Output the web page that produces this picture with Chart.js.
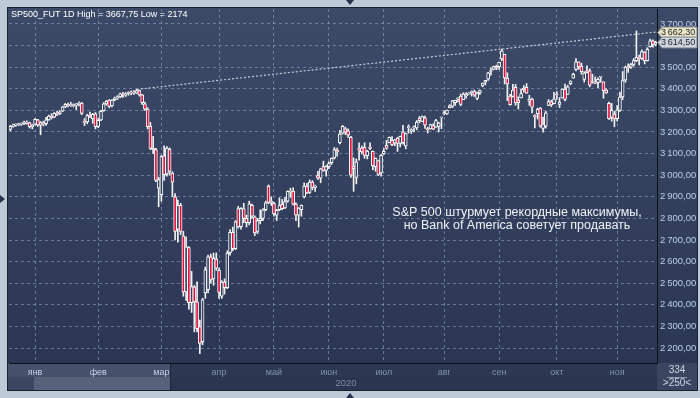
<!DOCTYPE html>
<html>
<head>
<meta charset="utf-8">
<script src="https://cdn.jsdelivr.net/npm/chart.js@4.4.1/dist/chart.umd.min.js"></script>
<style>
  html, body { margin: 0; padding: 0; background: #bfcad8; }
  canvas { display: block; }
</style>
</head>
<body>
<canvas id="chart" width="700" height="398"></canvas>
<script>
// month names and the bar index where each month starts
const months = ['янв', 'фев', 'мар', 'апр', 'май', 'июн', 'июл', 'авг', 'сен', 'окт', 'ноя'];
const monthStart = [9, 32, 55, 76, 96, 116, 136, 158, 178, 199, 221];
const yTicks = [2200, 2300, 2400, 2500, 2600, 2700, 2800, 2900, 3000, 3100, 3200, 3300, 3400, 3500, 3600, 3700];

// daily candles, SP500 futures (Dec 2019 .. Nov 2020)
const opens = [
  3212,3226,3232,3234,3236,3238,3246,3242,3224,
  3236,3256,3232,3244,3238,3256,3274,3268,3284,3284,3296,3316,3326,3322,3322,3324,3328,3334,3250,3246,3278,3262,3284,
  3226,3256,3298,3330,3348,3320,3350,3358,3362,3374,3370,3378,3380,3384,3380,3392,3372,3330,3306,3226,3124,3118,2940,
  2910,3090,3006,3120,3010,2900,2750,2860,2720,2460,2665,2410,2483,2414,2300,2230,2455,2470,2622,2520,2612,
  2560,2440,2505,2480,2642,2736,2660,2845,2762,2845,2800,2780,2860,2807,2740,2790,2800,2840,2950,2874,
  2870,2815,2840,2865,2848,2880,2920,2926,2866,2815,2840,2900,2950,2920,2968,2944,2998,2986,3040,3022,
  3040,3058,3080,3115,3150,3195,3215,3205,3175,3040,2990,3120,3125,3130,3090,3130,3110,3040,3068,3010,
  3100,3138,3150,3161,3149,3171,3147,3200,3136,3220,3204,3219,3219,3263,3249,3266,3213,3214,3229,3222,3226,3265,
  3283,3284,3312,3318,3335,3352,3365,3350,3368,3375,3382,3387,3355,3381,3413,3430,3444,3481,3490,3504,
  3502,3538,3559,3448,3366,3364,3407,3348,3358,3402,3406,3341,3352,3275,3285,3310,3216,3227,3323,3340,3331,
  3375,3328,3358,3398,3374,3424,3449,3490,3524,3505,3443,3483,3483,3429,3429,3428,3454,3432,3394,3333,3267,3283,
  3262,3300,3362,3440,3500,3500,3512,3530,3545,3540,3570,3530,3595,3622,3605
];
const highs = [
  3230,3236,3238,3240,3242,3250,3252,3246,3236,
  3262,3258,3248,3250,3268,3278,3284,3290,3296,3298,3318,3332,3334,3338,3330,3332,3340,3337,3262,3282,3292,3286,3290,
  3262,3300,3336,3346,3350,3350,3362,3368,3380,3384,3382,3386,3390,3392,3397,3394,3374,3338,3312,3244,3180,3124,2990,
  3092,3136,3132,3126,3016,2915,2885,2870,2740,2715,2670,2555,2490,2507,2330,2430,2575,2630,2635,2640,2640,
  2570,2512,2520,2650,2748,2760,2790,2856,2850,2870,2815,2880,2866,2812,2800,2840,2845,2880,2955,2900,
  2875,2842,2895,2888,2898,2928,2940,2942,2872,2850,2862,2965,2962,2978,2975,2954,3018,3032,3065,3045,
  3062,3080,3128,3126,3208,3230,3222,3215,3180,3080,3075,3150,3135,3150,3115,3150,3112,3080,3070,3095,
  3123,3161,3177,3179,3166,3175,3181,3231,3195,3233,3215,3228,3253,3272,3274,3274,3222,3236,3238,3259,3245,3267,
  3298,3301,3326,3346,3347,3359,3376,3382,3382,3382,3390,3394,3385,3394,3427,3439,3476,3496,3505,3509,
  3523,3583,3559,3474,3374,3420,3420,3363,3397,3415,3424,3370,3357,3280,3310,3313,3269,3296,3350,3347,3383,
  3387,3359,3399,3422,3416,3437,3472,3540,3524,3518,3479,3506,3492,3467,3455,3451,3456,3432,3400,3338,3332,3295,
  3322,3385,3480,3505,3515,3518,3540,3667.75,3556,3580,3572,3590,3630,3626,3620
];
const lows = [
  3205,3222,3226,3229,3230,3234,3236,3218,3214,
  3232,3226,3187,3228,3230,3254,3260,3266,3276,3280,3294,3312,3316,3318,3316,3304,3320,3280,3230,3238,3266,3240,3214,
  3220,3252,3296,3324,3312,3316,3344,3350,3358,3360,3364,3370,3372,3374,3378,3366,3328,3300,3214,3118,3100,2970,2854,
  2880,2976,2995,3000,2900,2700,2690,2725,2440,2420,2380,2365,2275,2275,2174,2215,2430,2455,2500,2490,2560,
  2430,2430,2450,2475,2630,2650,2655,2755,2750,2780,2760,2770,2800,2720,2730,2775,2790,2835,2868,2860,
  2810,2790,2835,2840,2845,2875,2898,2862,2790,2760,2810,2895,2915,2915,2932,2925,2980,2965,3018,2995,
  3030,3050,3075,3088,3145,3190,3188,3175,2990,2925,2960,3070,3098,3078,3075,3118,3025,3018,2998,2995,
  3096,3120,3150,3137,3136,3110,3131,3144,3122,3195,3193,3200,3210,3242,3248,3217,3195,3213,3211,3221,3200,3215,
  3279,3281,3312,3313,3323,3339,3321,3350,3356,3374,3366,3364,3349,3374,3409,3418,3439,3463,3488,3488,
  3489,3530,3422,3345,3324,3361,3324,3306,3358,3384,3379,3323,3288,3219,3260,3222,3199,3218,3322,3317,3330,
  3351,3313,3357,3344,3374,3418,3449,3482,3490,3467,3431,3473,3409,3425,3423,3405,3430,3356,3378,3258,3250,3224,
  3250,3295,3350,3430,3476,3494,3505,3525,3510,3535,3515,3528,3592,3592,3598
];
const closes = [
  3226,3232,3234,3236,3238,3246,3240,3224,3232,
  3258,3232,3244,3236,3256,3274,3266,3286,3282,3292,3316,3328,3322,3324,3326,3328,3332,3286,3244,3276,3270,3282,3224,
  3254,3296,3330,3342,3318,3348,3358,3362,3376,3370,3378,3382,3386,3380,3392,3372,3336,3306,3224,3124,3118,2976,2980,
  3086,3003,3126,3018,2968,2740,2860,2740,2460,2668,2410,2485,2414,2290,2222,2423,2562,2622,2516,2615,2570,
  2458,2505,2480,2640,2736,2660,2784,2762,2845,2800,2780,2868,2810,2733,2790,2800,2840,2872,2874,2880,
  2822,2838,2862,2845,2878,2925,2926,2866,2815,2848,2860,2950,2918,2968,2944,2950,2986,3030,3022,3040,
  3054,3078,3118,3108,3190,3226,3200,3185,3000,3030,3062,3118,3108,3092,3112,3124,3044,3078,3004,3092,
  3111,3125,3175,3140,3164,3147,3180,3150,3192,3222,3210,3220,3246,3252,3271,3231,3211,3234,3213,3253,3241,3266,
  3290,3301,3322,3344,3346,3355,3328,3375,3368,3377,3384,3370,3380,3392,3426,3439,3474,3480,3503,3495,
  3522,3575,3450,3422,3326,3394,3334,3336,3378,3396,3380,3352,3315,3271,3305,3227,3236,3288,3341,3325,3353,
  3371,3338,3398,3351,3409,3436,3467,3524,3501,3479,3473,3474,3417,3433,3426,3443,3455,3391,3381,3261,3300,3260,
  3302,3362,3438,3500,3498,3512,3530,3545,3540,3572,3530,3582,3622,3605,3614.5
];

const bars = opens.map((_, i) => i);

// dotted trend line from the February high to the right edge
const trendFrom = 46, trendFromValue = 3397;
const trendTo = bars.length - 1, trendToValue = 3662.3;
const lastPrice = 3614.5;

const titleText = 'SP500_FUT 1D High = 3667,75 Low = 2174';
const noteLines = ['S&P 500 штурмует рекордные максимумы,', 'но Bank of America советует продавать'];
const yearLabel = '2020';
const barsLoaded = '334';
const zoomLabel = '>250<';

const FONT = '"Liberation Sans", Arial, sans-serif';
const gridCol = 'rgba(150,170,200,0.55)';
const upFill = '#34415f';
const downFill = '#e3123c';

function fmtPrice(v) {
  const [a, b] = v.toFixed(2).split('.');
  return a.replace(/\B(?=(\d{3})+(?!\d))/g, '\u2009') + ',' + b;
}

const trendData = bars.map(i => i === trendFrom ? trendFromValue : (i === trendTo ? trendToValue : null));

const framePlugin = {
  id: 'frame',
  beforeDraw(chart) {
    const c = chart.ctx, a = chart.chartArea;
    c.save();
    c.fillStyle = '#bfcad8';
    c.fillRect(0, 0, 700, 398);
    c.fillStyle = '#1a2233';
    c.fillRect(7, 7, 691, 384);
    const g = c.createLinearGradient(0, a.top, 0, a.bottom);
    g.addColorStop(0, '#3c4a68');
    g.addColorStop(1, '#2b3653');
    c.fillStyle = g;
    c.fillRect(8, 8, 689, a.bottom - 8);
    // navigator
    c.fillStyle = '#2c3752';
    c.fillRect(8, a.bottom, 649, 14);
    c.fillStyle = '#2a354f';
    c.fillRect(8, a.bottom + 14, 649, 13);
    c.fillStyle = '#45516b';
    c.fillRect(8, a.bottom, 162, 14);
    c.fillStyle = '#3b4761';
    c.fillRect(8, a.bottom + 14, 26, 13);
    c.fillStyle = '#56627a';
    c.fillRect(34, a.bottom + 14, 136, 13);
    c.fillStyle = '#1e2638';
    c.fillRect(170, a.bottom, 1, 27);
    // bottom right box
    c.fillStyle = '#3a465f';
    c.fillRect(657, a.bottom, 40, 27);
    c.restore();
  },
  afterDraw(chart) {
    const c = chart.ctx, y = chart.scales.y;
    c.save();
    // title
    c.font = '9px ' + FONT;
    c.fillStyle = '#ffffff';
    c.textBaseline = 'middle';
    c.textAlign = 'left';
    c.fillText(titleText, 11, 15);
    // note
    c.font = '12.5px ' + FONT;
    c.fillStyle = '#eef2f8';
    c.textAlign = 'center';
    c.fillText(noteLines[0], 517, 213);
    c.fillText(noteLines[1], 517, 226);
    // year and bar counters
    c.font = '9.5px ' + FONT;
    c.fillStyle = '#7d8aa4';
    c.fillText(yearLabel, 346, 383);
    c.fillStyle = '#cdd7e6';
    c.font = '10px ' + FONT;
    c.fillText(barsLoaded, 677, 370);
    c.fillText(zoomLabel, 677, 383);
    c.fillStyle = '#8b97ad';
    c.fillRect(667, 377, 20, 1);
    // price tags
    const tags = [[trendToValue, '#ece5c3'], [lastPrice, '#cfd3da']];
    c.font = '9px ' + FONT;
    c.textAlign = 'left';
    tags.forEach(([v, col]) => {
      const py = Math.round(y.getPixelForValue(v)) + 0.5;
      c.beginPath();
      c.moveTo(657.5, py);
      c.lineTo(662, py - 5.5);
      c.lineTo(697, py - 5.5);
      c.lineTo(697, py + 5.5);
      c.lineTo(662, py + 5.5);
      c.closePath();
      c.fillStyle = col;
      c.fill();
      c.strokeStyle = '#7a7f88';
      c.lineWidth = 1;
      c.stroke();
      c.fillStyle = '#1b2233';
      c.fillText(fmtPrice(v), 661, py + 0.5);
    });
    // small navigation triangles
    c.fillStyle = '#26324a';
    c.beginPath(); c.moveTo(346, 0); c.lineTo(354, 0); c.lineTo(350, 5); c.fill();
    c.beginPath(); c.moveTo(346, 398); c.lineTo(354, 398); c.lineTo(350, 393); c.fill();
    c.beginPath(); c.moveTo(0, 195); c.lineTo(0, 203); c.lineTo(5, 199); c.fill();
    c.restore();
  }
};

new Chart(document.getElementById('chart'), {
  data: {
    labels: bars,
    datasets: [
      {
        type: 'line',
        data: trendData,
        spanGaps: true,
        borderColor: 'rgba(225,230,240,0.85)',
        borderWidth: 1.2,
        borderDash: [2, 2],
        pointRadius: 0,
        order: 0
      },
      {
        type: 'bar',
        data: opens.map((o, i) => [o, closes[i]]),
        backgroundColor: opens.map((o, i) => closes[i] < o ? downFill : upFill),
        borderColor: '#ffffff',
        borderWidth: 1,
        borderSkipped: false,
        barThickness: 3,
        minBarLength: 1,
        grouped: false,
        order: 1
      },
      {
        type: 'bar',
        data: lows.map((l, i) => [l, highs[i]]),
        backgroundColor: '#f2f2f2',
        borderWidth: 0,
        barThickness: 1,
        grouped: false,
        order: 2
      }
    ]
  },
  options: {
    responsive: false,
    animation: false,
    devicePixelRatio: 1,
    layout: { padding: { left: 9, top: 9, right: 3, bottom: 7 } },
    plugins: { legend: { display: false }, tooltip: { enabled: false } },
    scales: {
      x: {
        type: 'category',
        offset: true,
        grid: {
          offset: false,
          drawTicks: false,
          color: c => monthStart.includes(c.index) ? gridCol : 'rgba(0,0,0,0)'
        },
        border: { display: true, color: '#0c111c', dash: [3, 3] },
        ticks: {
          autoSkip: false,
          maxRotation: 0,
          padding: 4,
          font: { family: FONT, size: 9 },
          color: c => c.index < monthStart[3] ? '#c3d0e4' : '#8190ad',
          callback: (v, i) => {
            const k = monthStart.indexOf(i);
            return k >= 0 ? months[k] : '';
          }
        },
        afterFit: s => { s.height = 28; }
      },
      y: {
        position: 'right',
        min: 2131,
        max: 3769,
        afterBuildTicks: s => { s.ticks = yTicks.map(v => ({ value: v })); },
        grid: { color: gridCol, drawTicks: false },
        border: { display: true, color: '#0c111c', dash: [3, 3] },
        ticks: {
          padding: 3,
          font: { family: FONT, size: 9.5 },
          color: '#b9cfea',
          callback: v => fmtPrice(v)
        },
        afterFit: s => { s.width = 40; }
      }
    }
  },
  plugins: [framePlugin]
});
</script>
</body>
</html>
